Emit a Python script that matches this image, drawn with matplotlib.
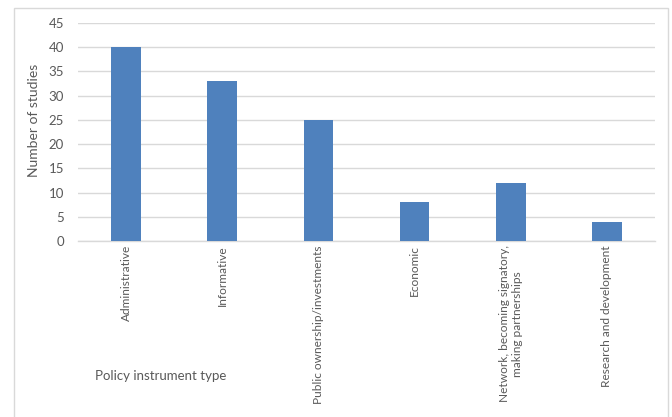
import matplotlib.pyplot as plt

categories = ['Administrative', 'Informative', 'Public ownership/investments', 'Economic',
              'Network, becoming signatory,\nmaking partnerships', 'Research and development']
studies = [40, 33, 25, 8, 12, 4]
y_ticks = [0, 5, 10, 15, 20, 25, 30, 35, 40, 45]

plt.rcParams['font.family'] = ['Lato', 'DejaVu Sans']
text_color = '#595959'

fig = plt.figure(figsize=(6.72, 4.17), dpi=100)
ax = fig.add_axes([78 / 672, 1 - 241 / 417, (655 - 78) / 672, (241 - 23) / 417])

x = range(len(categories))
ax.bar(x, studies, width=0.31, color='#4F81BD', zorder=3)

ax.set_xlim(-0.5, len(categories) - 0.5)
ax.set_ylim(0, 45)
ax.set_yticks(y_ticks)
ax.set_xticks(list(x))
ax.set_xticklabels(categories, rotation=90, va='top', ha='center', multialignment='center',
                   fontsize=8.6)
ax.tick_params(axis='y', labelsize=9.5)
ax.tick_params(axis='both', length=0, colors=text_color)
ax.tick_params(axis='x', pad=3)
ax.tick_params(axis='y', pad=10)
ax.grid(axis='y', color='#D9D9D9', linewidth=1, zorder=0)
for side in ['top', 'right', 'left']:
    ax.spines[side].set_visible(False)
ax.spines['bottom'].set_color('#D9D9D9')
ax.spines['bottom'].set_linewidth(1)

fig.text(34 / 672, 1 - 120 / 417, 'Number of studies', rotation=90, ha='center', va='center',
         fontsize=10, color=text_color)
fig.text(95 / 672, 1 - 376 / 417, 'Policy instrument type', ha='left', va='center',
         fontsize=9.5, color=text_color)

# outer chart border
border = plt.Rectangle((13.5 / 672, -0.01), (667.5 - 13.5) / 672, 1 - 7.5 / 417 + 0.01,
                       transform=fig.transFigure, fill=False, edgecolor='#D9D9D9', linewidth=1)
fig.patches.append(border)

fig.savefig('out.png', dpi=100)
